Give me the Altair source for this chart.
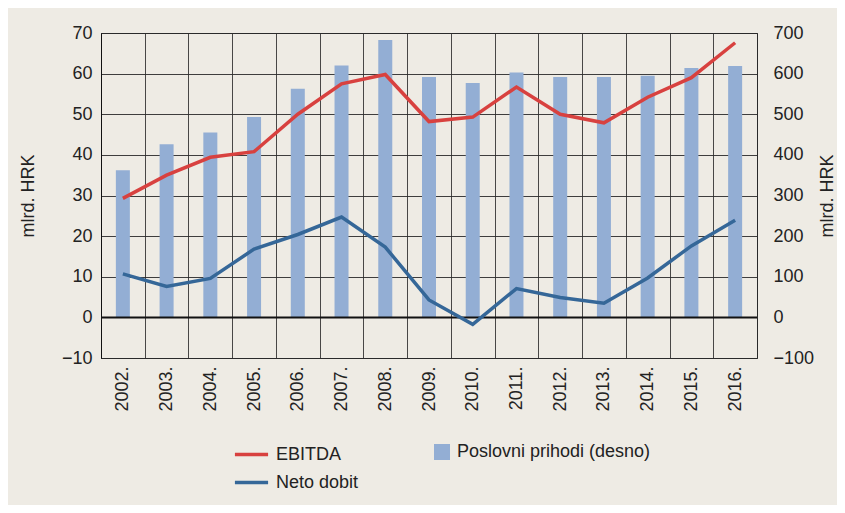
import altair as alt
import pandas as pd

years = ["2002.", "2003.", "2004.", "2005.", "2006.", "2007.", "2008.", "2009.",
         "2010.", "2011.", "2012.", "2013.", "2014.", "2015.", "2016."]
ebitda = [29.3, 35.0, 39.4, 40.8, 50.0, 57.5, 59.8, 48.2, 49.3, 56.7, 50.0, 47.9, 54.2, 59.0, 67.6]
neto_dobit = [10.7, 7.6, 9.6, 16.8, 20.4, 24.7, 17.3, 4.3, -1.7, 7.1, 4.9, 3.5, 9.7, 17.6, 23.9]
prihodi = [362, 426, 455, 493, 563, 620, 683, 592, 577, 603, 592, 592, 595, 614, 619]

series_names = ["EBITDA", "Neto dobit"]
bar_name = "Poslovni prihodi (desno)"
left_ticks = [-10, 0, 10, 20, 30, 40, 50, 60, 70]
right_ticks = [-100, 0, 100, 200, 300, 400, 500, 600, 700]

RED = "#d8413f"
BLUE = "#356798"
BARC = "#93aed4"
BG = "#eeebe4"
GRID = "#2a2a2a"
FONT = "Liberation Sans"
FS = 18

df_bars = pd.DataFrame({"year": years, "v": prihodi, "s": bar_name})
df_lines = pd.DataFrame({
    "year": years * 2,
    "v": ebitda + neto_dobit,
    "series": ["EBITDA"] * len(years) + ["Neto dobit"] * len(years),
})
df_zero = pd.DataFrame({"z": [0]})

x_enc = alt.X(
    "year:N", sort=years,
    scale=alt.Scale(paddingInner=0, paddingOuter=0),
    axis=alt.Axis(title=None, labelAngle=-90, labelAlign="right", labelBaseline="middle",
                  tickBand="extent", grid=True, gridColor=GRID, gridOpacity=0.85, gridWidth=1,
                  ticks=False, domain=False, labelPadding=8),
)

bars = alt.Chart(df_bars).mark_bar(size=14).encode(
    x=x_enc,
    y=alt.Y("v:Q", scale=alt.Scale(domain=[-100, 700], nice=False, zero=False),
            axis=alt.Axis(orient="right", values=right_ticks, title="mlrd. HRK",
                          grid=False, ticks=False, domain=False, labelPadding=16,
                          titleAngle=270, titleX=75, titleBaseline="alphabetic")),
    fill=alt.Fill("s:N", scale=alt.Scale(domain=[bar_name], range=[BARC]),
                  legend=alt.Legend(title=None, orient="none", legendX=332, legendY=410,
                                    symbolType="square", symbolSize=256, symbolStrokeWidth=0,
                                    labelFontSize=FS, labelOffset=6, labelLimit=400)),
)

zero = alt.Chart(df_zero).mark_rule(color="#111", strokeWidth=2).encode(
    y=alt.Y("z:Q", scale=alt.Scale(domain=[-10, 70], nice=False, zero=False), axis=None),
)

lines = alt.Chart(df_lines).mark_line(strokeWidth=3.5).encode(
    x=x_enc,
    y=alt.Y("v:Q", scale=alt.Scale(domain=[-10, 70], nice=False, zero=False),
            axis=alt.Axis(orient="left", values=left_ticks, title="mlrd. HRK",
                          grid=True, gridColor=GRID, gridOpacity=0.9, ticks=False,
                          domain=True, domainColor="#111", labelPadding=9, titlePadding=24)),
    color=alt.Color("series:N", scale=alt.Scale(domain=series_names, range=[RED, BLUE]),
                    legend=alt.Legend(title=None, orient="none", legendX=132, legendY=403,
                                      direction="vertical", symbolType="stroke",
                                      symbolSize=1100, symbolStrokeWidth=3.5,
                                      labelFontSize=FS, rowPadding=-1, labelOffset=6,
                                      labelLimit=400)),
)

chart = alt.layer(bars, zero, lines).resolve_scale(
    y="independent", color="independent", fill="independent"
).properties(
    width=656, height=325,
    autosize=alt.AutoSizeParams(type="none"),
    padding={"left": 93, "top": 25, "right": 80, "bottom": 147},
    background=BG,
).configure_view(
    stroke=GRID, strokeWidth=1,
).configure_axis(
    labelFont=FONT, titleFont=FONT, labelFontSize=FS, titleFontSize=FS,
    labelColor="#222", titleColor="#222", titleFontWeight="normal",
).configure_legend(
    labelFont=FONT, labelColor="#222",
)

chart.save("out.html", embed_options={"renderer": "svg", "actions": False})
